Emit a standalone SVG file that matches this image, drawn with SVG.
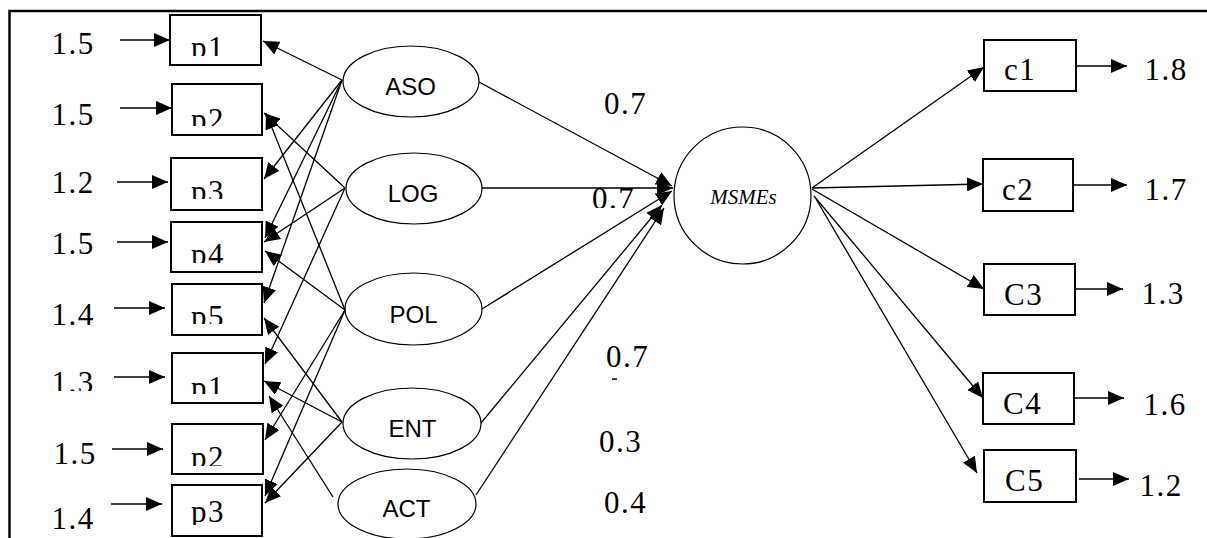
<svg xmlns="http://www.w3.org/2000/svg" width="1207" height="538" viewBox="0 0 1207 538">
<style>
.t{font-family:"Liberation Serif","Times New Roman",serif;font-size:31px;letter-spacing:1.5px;fill:#000}
.s{font-family:"Liberation Sans",Arial,sans-serif;font-size:24px;fill:#000;text-anchor:middle}
.box{fill:#fff;stroke:#000;stroke-width:2}
.ell{fill:#fff;stroke:#000;stroke-width:1.2}
.c{stroke:#000;stroke-width:1.3;fill:none;marker-end:url(#ah)}
</style>
<defs>
<marker id="ah" markerUnits="userSpaceOnUse" markerWidth="16" markerHeight="14" viewBox="0 0 16 14" refX="16" refY="7" orient="auto"><path d="M0,0 L16,7 L0,14 z" fill="#000"/></marker>
<clipPath id="clipT">
<rect x="45" y="25" width="55" height="29"/>
<rect x="45" y="225" width="55" height="29"/>
<rect x="45" y="362" width="55" height="29"/>
<rect x="185" y="28" width="60" height="28"/>
<rect x="185" y="100" width="60" height="26"/>
<rect x="185" y="172" width="60" height="27"/>
<rect x="185" y="235" width="60" height="28"/>
<rect x="185" y="297" width="60" height="27"/>
<rect x="185" y="368" width="60" height="26"/>
<rect x="185" y="438" width="60" height="28"/>
<rect x="185" y="492" width="60" height="33"/>
<rect x="598" y="85" width="55" height="29"/>
<rect x="586" y="180" width="55" height="28"/>
<rect x="1135" y="275" width="60" height="29"/>
<rect x="1135" y="385" width="60" height="30"/>
</clipPath>
</defs>
<rect width="1207" height="538" fill="#fff"/>
<path d="M9.5,538 V11 H1207" fill="none" stroke="#000" stroke-width="2.5"/>

<g id="left-labels">
<text class="t" x="51.5" y="54" clip-path="url(#clipT)">1.5</text>
<text class="t" x="51.5" y="125">1.5</text>
<text class="t" x="51.5" y="193">1.2</text>
<text class="t" x="51.5" y="254" clip-path="url(#clipT)">1.5</text>
<text class="t" x="51.5" y="325">1.4</text>
<text class="t" x="51.5" y="393" clip-path="url(#clipT)">1.3</text>
<text class="t" x="53.5" y="464">1.5</text>
<text class="t" x="51.5" y="529">1.4</text>
</g>

<g id="node-p1"><rect class="box" x="170" y="15" width="91" height="50"/><text class="t" x="191" y="58" clip-path="url(#clipT)">p1</text></g>
<g id="node-p2"><rect class="box" x="172" y="84" width="90" height="51"/><text class="t" x="191" y="130" clip-path="url(#clipT)">p2</text></g>
<g id="node-p3"><rect class="box" x="171" y="158" width="91" height="52"/><text class="t" x="191" y="202" clip-path="url(#clipT)">p3</text></g>
<g id="node-p4"><rect class="box" x="171" y="222" width="91" height="50"/><text class="t" x="191" y="265" clip-path="url(#clipT)">p4</text></g>
<g id="node-p5"><rect class="box" x="172" y="284" width="90" height="51"/><text class="t" x="191" y="327" clip-path="url(#clipT)">p5</text></g>
<g id="node-p1b"><rect class="box" x="172" y="353" width="91" height="50"/><text class="t" x="191" y="398" clip-path="url(#clipT)">p1</text></g>
<g id="node-p2b"><rect class="box" x="172" y="424" width="91" height="50"/><text class="t" x="191" y="468" clip-path="url(#clipT)">p2</text></g>
<g id="node-p3b"><rect class="box" x="172" y="485" width="90" height="51"/><text class="t" x="191" y="522" clip-path="url(#clipT)">p3</text></g>

<g id="node-ASO"><ellipse class="ell" cx="411" cy="81.5" rx="68" ry="35.5"/><text class="s" x="410.5" y="95">ASO</text></g>
<g id="node-LOG"><ellipse class="ell" cx="414" cy="188.5" rx="68" ry="35.5"/><text class="s" x="413" y="202">LOG</text></g>
<g id="node-POL"><ellipse class="ell" cx="413.5" cy="309" rx="68.5" ry="36"/><text class="s" x="413.5" y="323">POL</text></g>
<g id="node-ENT"><ellipse class="ell" cx="412" cy="423.5" rx="69" ry="35.5"/><text class="s" x="412.5" y="437">ENT</text></g>
<g id="node-ACT"><ellipse class="ell" cx="407" cy="504" rx="69" ry="35"/><text class="s" x="406.5" y="517">ACT</text></g>

<g id="node-MSMEs"><circle class="ell" cx="742.5" cy="195.5" r="68.5"/><text x="743.5" y="204" font-family="'Liberation Serif','Times New Roman',serif" font-style="italic" font-size="21" text-anchor="middle">MSMEs</text></g>

<g id="node-c1"><rect class="box" x="984" y="40" width="92" height="51"/><text class="t" x="1004" y="80">c1</text></g>
<g id="node-c2"><rect class="box" x="983" y="159" width="90" height="52"/><text class="t" x="1002" y="200">c2</text></g>
<g id="node-C3"><rect class="box" x="984" y="264" width="91" height="51"/><text class="t" x="1004" y="305">C3</text></g>
<g id="node-C4"><rect class="box" x="983" y="373" width="91" height="51"/><text class="t" x="1003" y="414">C4</text></g>
<g id="node-C5"><rect class="box" x="984" y="450" width="92" height="52"/><text class="t" x="1005" y="491">C5</text></g>

<g id="right-labels">
<text class="t" x="1144.5" y="80">1.8</text>
<text class="t" x="1144.5" y="200">1.7</text>
<text class="t" x="1141.5" y="304" clip-path="url(#clipT)">1.3</text>
<text class="t" x="1143.5" y="415" clip-path="url(#clipT)">1.6</text>
<text class="t" x="1139.5" y="496">1.2</text>
</g>

<g id="path-labels">
<text class="t" x="604" y="114" clip-path="url(#clipT)">0.7</text>
<text class="t" x="592" y="209" clip-path="url(#clipT)">0.7</text>
<text class="t" x="606" y="367">0.7</text>
<rect x="612" y="378.3" width="5" height="1.5" fill="#000"/>
<text class="t" x="599" y="452">0.3</text>
<text class="t" x="604" y="513">0.4</text>
</g>

<g id="connectors">
<line class="c" x1="120" y1="40" x2="170" y2="40"/>
<line class="c" x1="120" y1="108" x2="172" y2="108"/>
<line class="c" x1="117" y1="182" x2="168" y2="182"/>
<line class="c" x1="117" y1="242" x2="168" y2="242"/>
<line class="c" x1="114" y1="308" x2="165" y2="308"/>
<line class="c" x1="114" y1="377" x2="165" y2="377"/>
<line class="c" x1="112" y1="449" x2="163" y2="449"/>
<line class="c" x1="111" y1="504" x2="162" y2="504"/>

<line class="c" x1="342" y1="80" x2="263" y2="41"/>
<line class="c" x1="342" y1="80" x2="264" y2="179"/>
<line class="c" x1="342" y1="80" x2="265" y2="238"/>
<line class="c" x1="342" y1="80" x2="264" y2="303"/>

<line class="c" x1="345" y1="188" x2="264" y2="113"/>
<line class="c" x1="345" y1="188" x2="264" y2="242"/>
<line class="c" x1="345" y1="188" x2="265" y2="364"/>

<line class="c" x1="345" y1="310" x2="266" y2="113"/>
<line class="c" x1="345" y1="310" x2="265" y2="251"/>
<line class="c" x1="345" y1="310" x2="265" y2="440"/>
<line class="c" x1="345" y1="310" x2="265" y2="496"/>

<line class="c" x1="342" y1="422" x2="264" y2="318"/>
<line class="c" x1="342" y1="422" x2="264" y2="381"/>
<line class="c" x1="342" y1="422" x2="265" y2="503"/>

<line class="c" x1="333" y1="497" x2="269" y2="396"/>

<line class="c" x1="479" y1="82" x2="672" y2="186"/>
<line class="c" x1="482" y1="188" x2="673" y2="188"/>
<line class="c" x1="482" y1="309" x2="672" y2="191"/>
<line class="c" x1="481" y1="423" x2="662" y2="205"/>
<line class="c" x1="476" y1="495" x2="664" y2="208"/>

<line class="c" x1="812" y1="188" x2="984" y2="67"/>
<line class="c" x1="812" y1="188" x2="983" y2="184"/>
<line class="c" x1="812" y1="189" x2="984" y2="289"/>
<line class="c" x1="814" y1="196" x2="983" y2="398"/>
<line class="c" x1="816" y1="199" x2="977" y2="473"/>

<line class="c" x1="1076" y1="66" x2="1127" y2="66"/>
<line class="c" x1="1073" y1="185" x2="1127" y2="185"/>
<line class="c" x1="1075" y1="289" x2="1123" y2="289"/>
<line class="c" x1="1074" y1="398" x2="1124" y2="398"/>
<line class="c" x1="1079" y1="479" x2="1129" y2="479"/>
</g>
</svg>
